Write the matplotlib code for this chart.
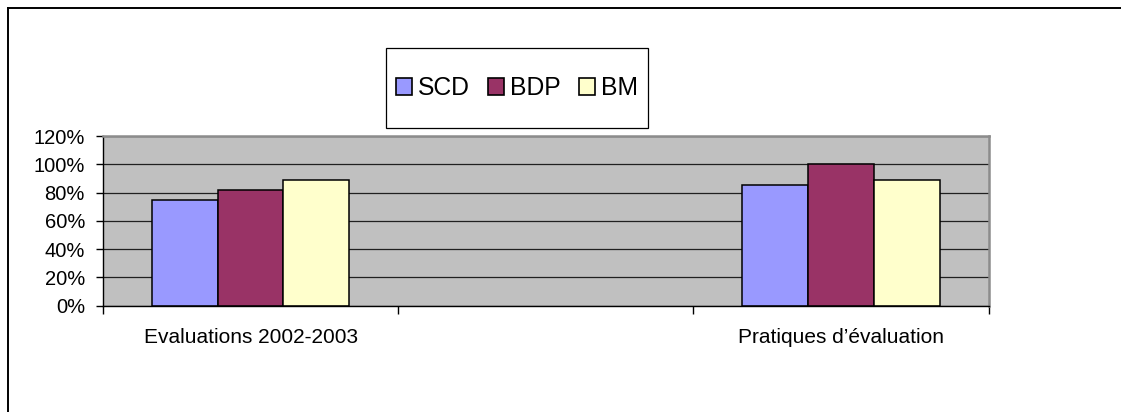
import matplotlib.pyplot as plt
from matplotlib.patches import Rectangle, Patch
from matplotlib.lines import Line2D
from matplotlib.ticker import FuncFormatter, MultipleLocator

plt.rcParams['font.family'] = ['Liberation Sans', 'DejaVu Sans']

categories = ['Evaluations 2002-2003', '', 'Pratiques d\u2019évaluation']
series = ['SCD', 'BDP', 'BM']
scd = [0.75, None, 0.85]
bdp = [0.82, None, 1.00]
bm = [0.89, None, 0.89]
colors = ['#9999FF', '#993366', '#FFFFCC']

fig = plt.figure(figsize=(11.21, 4.12), dpi=100)

# outer frame, open on the right and bottom
fig.add_artist(Line2D([8 / 1121, 1.01], [1 - 8 / 412] * 2, transform=fig.transFigure,
                      color='black', lw=1.4))
fig.add_artist(Line2D([8 / 1121] * 2, [1 - 8 / 412, -0.01], transform=fig.transFigure,
                      color='black', lw=1.4))

ax = fig.add_axes([103 / 1121, 106.3 / 412, 885.7 / 1121, 169.7 / 412])
ax.set_facecolor('#C0C0C0')

w = 0.2227
x = list(range(len(categories)))
for k, (vals, c) in enumerate(zip([scd, bdp, bm], colors)):
    xs = [i + (k - 1) * w for i, v in zip(x, vals) if v is not None]
    ys = [v for v in vals if v is not None]
    ax.bar(xs, ys, width=w, color=c, edgecolor='black', linewidth=1.1, zorder=3)

ax.set_xlim(-0.5, 2.5)
ax.set_ylim(0, 1.2)
ax.yaxis.set_major_locator(MultipleLocator(0.2))
ax.yaxis.set_major_formatter(FuncFormatter(lambda v, p: f'{v * 100:.0f}%'))
ax.grid(axis='y', color='#202020', linewidth=0.9, zorder=1)

ax.set_xticks([-0.5, 0.5, 1.5, 2.5], minor=False)
ax.set_xticklabels([])
ax.set_xticks(x, minor=True)
ax.set_xticklabels(categories, minor=True, fontsize=15)
ax.tick_params(axis='x', which='major', length=6, width=1, direction='out', color='black')
ax.tick_params(axis='x', which='minor', length=0, pad=16)
ax.tick_params(axis='y', length=5, width=1, direction='out', labelsize=14.5, pad=8)

for side in ['top', 'right']:
    ax.spines[side].set_color('#8C8C8C')
    ax.spines[side].set_linewidth(1.8)
for side in ['left', 'bottom']:
    ax.spines[side].set_color('black')
    ax.spines[side].set_linewidth(1.0)
ax.spines['bottom'].set_zorder(4)

# legend box
bx0, by0, bx1, by1 = 386, 47.7, 648, 128.3
fig.add_artist(Rectangle((bx0 / 1121, 1 - by1 / 412), (bx1 - bx0) / 1121, (by1 - by0) / 412,
                         transform=fig.transFigure, facecolor='white',
                         edgecolor='black', linewidth=0.9))
handles = [Patch(facecolor=c, edgecolor='black', linewidth=1.2) for c in colors]
fig.legend(handles, series, loc='center', ncol=3, frameon=False,
           bbox_to_anchor=((bx0 + bx1) / 2 / 1121, 1 - (by0 + by1) / 2 / 412),
           fontsize=17.8, handlelength=0.65, handleheight=0.65,
           handletextpad=0.25, columnspacing=0.72)

fig.savefig('out.png', dpi=100)
